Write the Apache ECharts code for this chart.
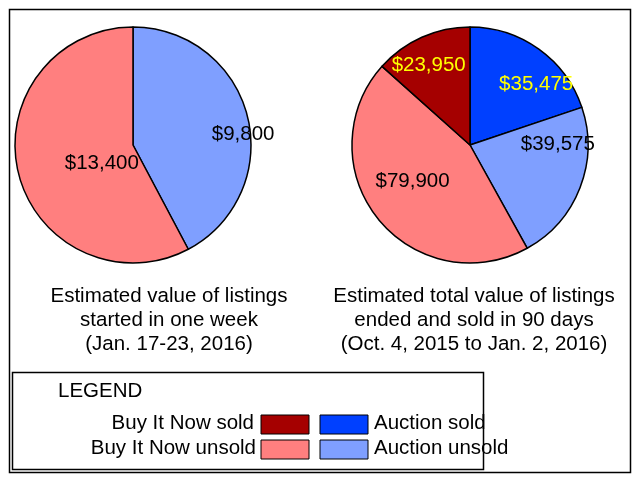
<!DOCTYPE html>
<html><head><meta charset="utf-8">
<script src="https://cdn.jsdelivr.net/npm/echarts@6/dist/echarts.min.js"></script>
<style>html,body{margin:0;background:#fff}#c{width:640px;height:482px}</style>
</head><body><div id="c"></div>
<script>
var weekNames = ['Auction unsold', 'Buy It Now unsold'];
var weekValues = [9800, 13400];
var soldNames = ['Auction sold', 'Auction unsold', 'Buy It Now unsold', 'Buy It Now sold'];
var soldValues = [35475, 39575, 79900, 23950];
var colors = {
    'Buy It Now sold': '#a50000',
    'Auction sold': '#0040ff',
    'Buy It Now unsold': '#ff7f7f',
    'Auction unsold': '#7f9fff'
};
var labelColors = {'Buy It Now sold': '#ffff00', 'Auction sold': '#ffff00'};
// label nudges from the default inside position
var weekShift = [[50, 4], [29, 3]];
var soldShift = [[30, -10], [30, -23], [-9, -2], [-16, -23]];

function pieData(names, values) {
    return names.map(function (n, i) {
        return {
            name: n, value: values[i],
            itemStyle: {color: colors[n]},
            label: {color: labelColors[n] || '#000'}
        };
    });
}
function money(p) { return '$' + p.value.toLocaleString('en-US'); }
function pie(center, names, values, shift) {
    return {
        type: 'pie', center: center, radius: 118, startAngle: 90,
        clockwise: true, silent: true,
        itemStyle: {borderColor: '#000', borderWidth: 1.5},
        label: {position: 'inside', formatter: money, fontSize: 20.5,
            fontFamily: 'Liberation Sans'},
        labelLine: {show: false},
        labelLayout: function (p) { return {dx: shift[p.dataIndex][0], dy: shift[p.dataIndex][1]}; },
        data: pieData(names, values)
    };
}
var txt = {fontSize: 20.5, fontFamily: 'Liberation Sans', fill: '#000'};
var capStyle = {fontSize: 20.5, fontWeight: 'normal', fontFamily: 'Liberation Sans', lineHeight: 24, color: '#000'};
var chart = echarts.init(document.getElementById('c'));
chart.setOption({
    animation: false,
    title: [
        {text: 'Estimated value of listings\nstarted in one week\n(Jan. 17-23, 2016)',
            left: 164, top: 279, textAlign: 'center', textStyle: capStyle},
        {text: 'Estimated total value of listings\nended and sold in 90 days\n(Oct. 4, 2015 to Jan. 2, 2016)',
            left: 469, top: 279, textAlign: 'center', textStyle: capStyle}
    ],
    graphic: [
        {type: 'rect', shape: {x: 9.5, y: 9.5, width: 621, height: 463}, style: {fill: 'none', stroke: '#000', lineWidth: 1.5}},
        {type: 'rect', shape: {x: 12.5, y: 372.5, width: 471, height: 97}, style: {fill: 'none', stroke: '#000', lineWidth: 1.5}},
        {type: 'text', x: 58, y: 381, style: Object.assign({text: 'LEGEND'}, txt)},
        {type: 'text', x: 254, y: 413, style: Object.assign({text: 'Buy It Now sold', textAlign: 'right'}, txt)},
        {type: 'text', x: 256, y: 438, style: Object.assign({text: 'Buy It Now unsold', textAlign: 'right'}, txt)},
        {type: 'rect', shape: {x: 261, y: 415, width: 48, height: 19}, style: {fill: colors['Buy It Now sold'], stroke: '#000', lineWidth: 1}},
        {type: 'rect', shape: {x: 261, y: 440, width: 48, height: 19}, style: {fill: colors['Buy It Now unsold'], stroke: '#000', lineWidth: 1}},
        {type: 'rect', shape: {x: 320, y: 415, width: 48, height: 19}, style: {fill: colors['Auction sold'], stroke: '#000', lineWidth: 1}},
        {type: 'rect', shape: {x: 320, y: 440, width: 48, height: 19}, style: {fill: colors['Auction unsold'], stroke: '#000', lineWidth: 1}},
        {type: 'text', x: 374, y: 413, style: Object.assign({text: 'Auction sold'}, txt)},
        {type: 'text', x: 374, y: 438, style: Object.assign({text: 'Auction unsold'}, txt)}
    ],
    series: [
        pie([133, 145], weekNames, weekValues, weekShift),
        pie([470, 145], soldNames, soldValues, soldShift)
    ]
});
</script></body></html>
